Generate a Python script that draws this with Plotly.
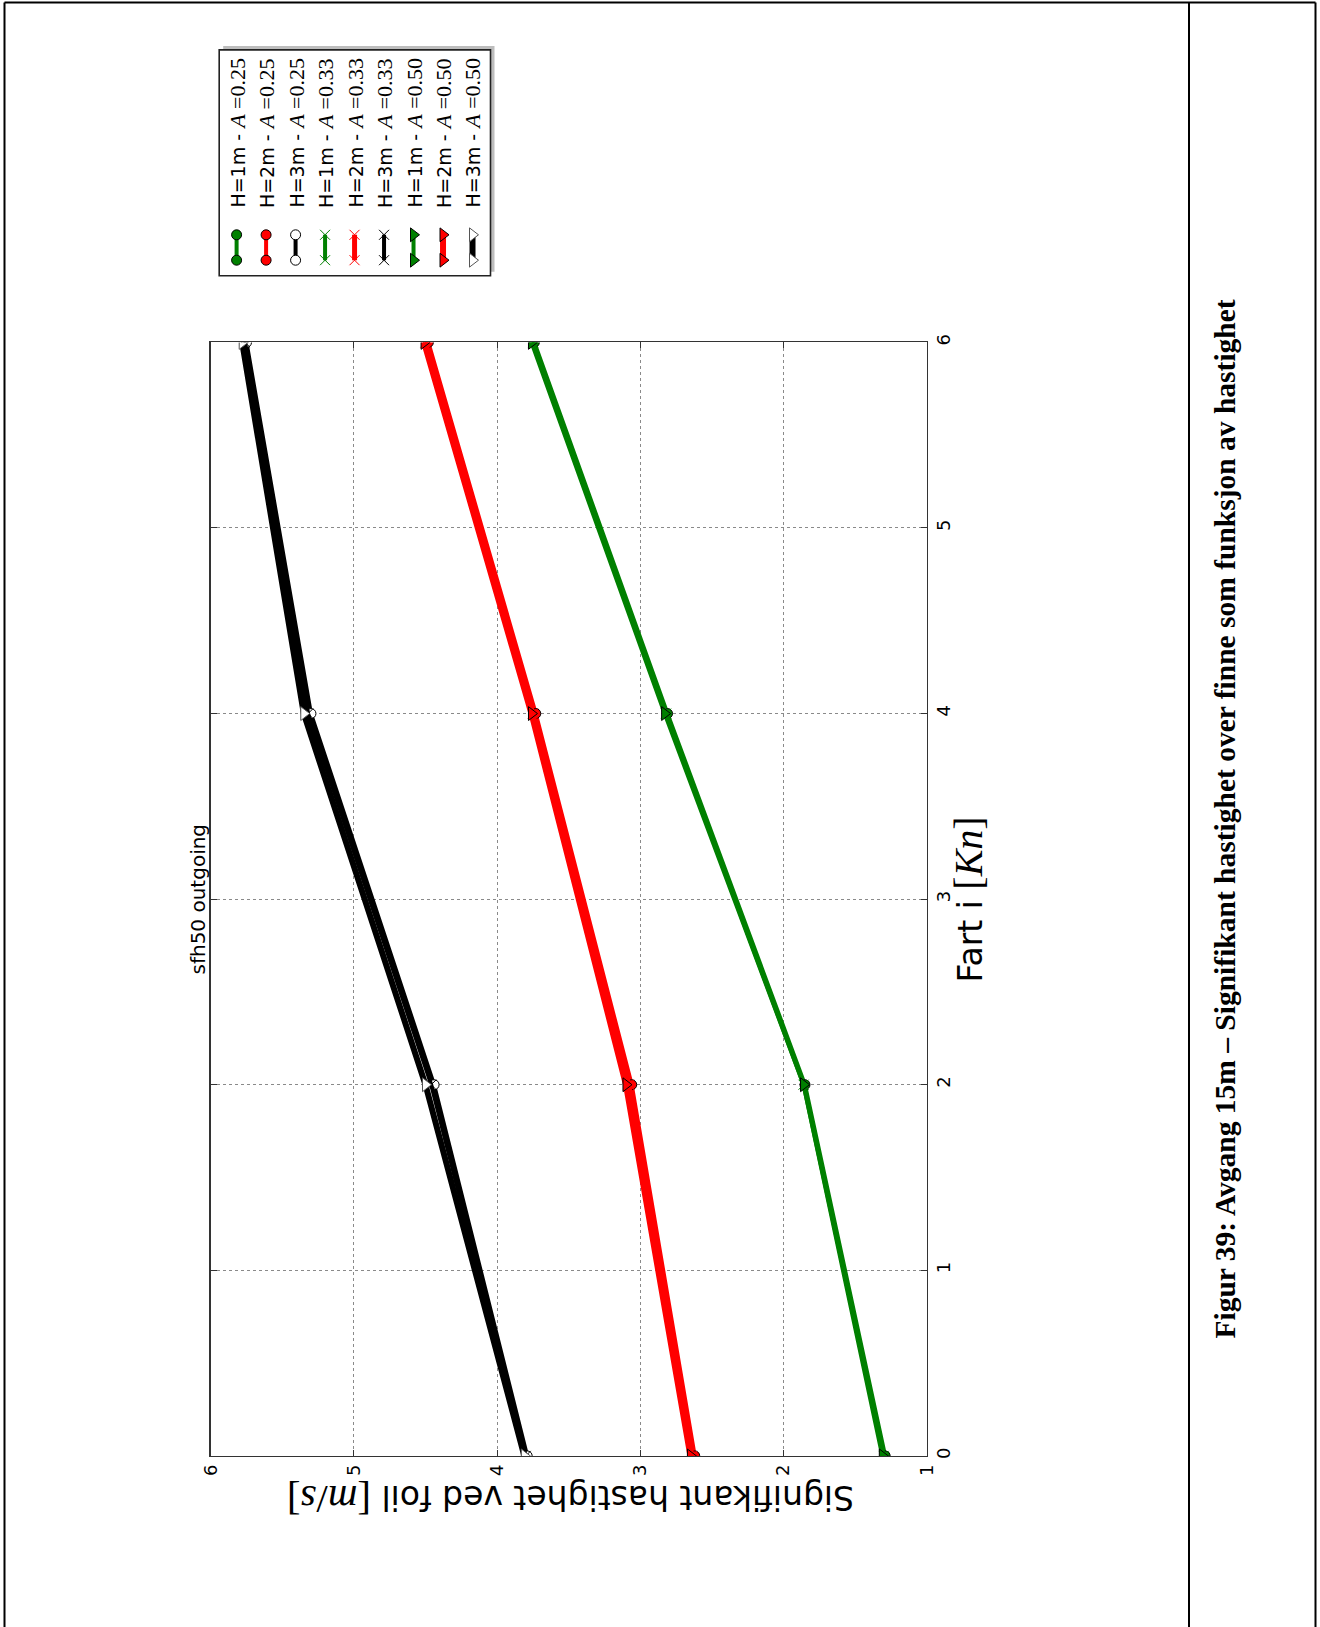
import plotly.graph_objects as go

W, H = 1320, 1627

# ---------------- data ----------------
speed = [0, 2, 4, 6]                      # Fart i [Kn]
heights = ["1m", "2m", "3m"]
amplitudes = ["0.25", "0.33", "0.50"]

v_h1_a25 = [1.29, 1.85, 2.81, 3.74]
v_h2_a25 = [2.62, 3.06, 3.73, 4.48]
v_h3_a25 = [3.79, 4.44, 5.30, 5.75]
v_h1_a33 = [1.30, 1.86, 2.82, 3.75]
v_h2_a33 = [2.64, 3.08, 3.75, 4.50]
v_h3_a33 = [3.80, 4.46, 5.32, 5.76]
v_h1_a50 = [1.31, 1.86, 2.83, 3.76]
v_h2_a50 = [2.65, 3.10, 3.76, 4.51]
v_h3_a50 = [3.81, 4.50, 5.35, 5.78]

vel_ticks = [1, 2, 3, 4, 5, 6]
speed_ticks = [0, 1, 2, 3, 4, 5, 6]

title_text = "sfh50 outgoing"
caption_text = "Figur 39: Avgang 15m \u2013 Signifikant hastighet over finne som funksjon av hastighet"

# ---------------- styles ----------------
line_col = {"1m": "#008000", "2m": "#ff0000", "3m": "#000000"}
fill_col = {"1m": "#008000", "2m": "#ff0000", "3m": "#ffffff"}
symbols = {"0.25": "circle", "0.33": "x-thin", "0.50": "triangle-right"}
msize = {"0.25": 10, "0.33": 10, "0.50": 12}
widths = {("1m", "0.25"): 4, ("2m", "0.25"): 4, ("3m", "0.25"): 4,
          ("1m", "0.33"): 4, ("2m", "0.33"): 5, ("3m", "0.33"): 4,
          ("1m", "0.50"): 4, ("2m", "0.50"): 6, ("3m", "0.50"): 6}

series = [
    ("1m", "0.25", v_h1_a25), ("2m", "0.25", v_h2_a25), ("3m", "0.25", v_h3_a25),
    ("1m", "0.33", v_h1_a33), ("2m", "0.33", v_h2_a33), ("3m", "0.33", v_h3_a33),
    ("1m", "0.50", v_h1_a50), ("2m", "0.50", v_h2_a50), ("3m", "0.50", v_h3_a50),
]


def px(x):
    return x / W


def py(y):
    return 1 - y / H


def marker_for(h, a):
    if a == "0.33":
        return dict(symbol=symbols[a], size=msize[a], color=line_col[h],
                    line=dict(color=line_col[h], width=1))
    return dict(symbol=symbols[a], size=msize[a], color=fill_col[h],
                line=dict(color="#000000" if h != "3m" or a == "0.25" else "#555555", width=1))


fig = go.Figure()

# main plot: x = velocity (horizontal, reversed), y = speed (vertical)
for h, a, vals in series:
    fig.add_trace(go.Scatter(
        x=vals, y=speed, mode="lines+markers",
        line=dict(color=line_col[h], width=widths[(h, a)]),
        marker=marker_for(h, a), showlegend=False, hoverinfo="skip",
        xaxis="x", yaxis="y"))

# legend samples (rotated legend drawn on its own axes)
leg_x_min, leg_x_max = 0.41, 9.61
leg_y_min, leg_y_max = -0.614, 8.28
for i, (h, a, vals) in enumerate(series, start=1):
    fig.add_trace(go.Scatter(
        x=[i, i], y=[0, 1], mode="lines+markers",
        line=dict(color=line_col[h], width=widths[(h, a)]),
        marker=marker_for(h, a), showlegend=False, hoverinfo="skip",
        xaxis="x2", yaxis="y2", cliponaxis=False))

annotations = []
math_font = "Liberation Serif"
for i, (h, a, vals) in enumerate(series, start=1):
    annotations.append(dict(
        xref="x2", yref="y2", x=i, y=1.976, xanchor="center", yanchor="bottom",
        textangle=-90, showarrow=False,
        text=(f"H={h[0]}m - <span style='font-family:{math_font};font-size:22px'>"
              f"<i>A</i> =0{a[1:]}</span>"),
        font=dict(family="DejaVu Sans", size=19, color="#000")))

annotations += [
    dict(xref="paper", yref="paper", x=px(197.5), y=py(899), textangle=-90,
         showarrow=False, xanchor="center", yanchor="middle", text=title_text,
         font=dict(family="DejaVu Sans", size=20, color="#000")),
    dict(xref="paper", yref="paper", x=px(968), y=py(899.5), textangle=-90,
         showarrow=False, xanchor="center", yanchor="middle",
         text=(f"Fart i <span style='font-family:{math_font};font-size:40px'>"
               f"[<i>Kn</i>]</span>"),
         font=dict(family="DejaVu Sans", size=33, color="#000")),
    dict(xref="paper", yref="paper", x=px(571), y=py(1500), textangle=180,
         showarrow=False, xanchor="center", yanchor="middle",
         text=(f"Signifikant hastighet ved foil <span style='font-family:{math_font};font-size:41px'>"
               f"[<i>m</i>/<i>s</i>]</span>"),
         font=dict(family="DejaVu Sans", size=33, color="#000")),
    dict(xref="paper", yref="paper", x=px(1224.5), y=py(819), textangle=-90,
         showarrow=False, xanchor="center", yanchor="middle",
         text=f"<b>{caption_text}</b>",
         font=dict(family="Liberation Serif", size=29.5, color="#000")),
]

shapes = [
    # legend shadow and frame
    dict(type="rect", xref="paper", yref="paper", layer="below",
         x0=px(223.2), x1=px(494.5), y0=py(271.8), y1=py(45.9),
         fillcolor="#bdbdbd", line=dict(width=0)),
    dict(type="rect", xref="paper", yref="paper", layer="below",
         x0=px(219.2), x1=px(490.5), y0=py(275.8), y1=py(49.9),
         fillcolor="#ffffff", line=dict(color="#222", width=1.6)),
    # page frame
    dict(type="line", xref="paper", yref="paper", x0=px(4.5), x1=px(4.5), y0=py(2.5), y1=py(1627),
         line=dict(color="#000", width=2)),
    dict(type="line", xref="paper", yref="paper", x0=px(4.5), x1=px(1315.5), y0=py(2.5), y1=py(2.5),
         line=dict(color="#000", width=2)),
    dict(type="line", xref="paper", yref="paper", x0=px(1189), x1=px(1189), y0=py(2.5), y1=py(1627),
         line=dict(color="#000", width=2)),
    dict(type="line", xref="paper", yref="paper", x0=px(1315.5), x1=px(1315.5), y0=py(2.5), y1=py(1627),
         line=dict(color="#000", width=2)),
]

axis_common = dict(
    showline=True, linecolor="#333", linewidth=1.5, mirror="ticks",
    ticks="inside", ticklen=6, tickwidth=1, tickcolor="#333",
    showgrid=True, gridcolor="#8a8a8a", griddash="dot", gridwidth=1,
    zeroline=False, tickangle=-90, automargin=False,
    tickfont=dict(family="DejaVu Sans", size=18, color="#000"),
)

fig.update_layout(
    width=W, height=H, autosize=False,
    margin=dict(l=0, r=0, t=0, b=0, pad=0, autoexpand=False),
    paper_bgcolor="#ffffff", plot_bgcolor="#ffffff",
    showlegend=False, hovermode=False,
    xaxis=dict(domain=[px(210.7), px(926.7)], range=[6, 1], tickvals=vel_ticks,
               side="bottom", anchor="y", **axis_common),
    yaxis=dict(domain=[py(1455.9), py(342.4)], range=[0, 6], tickvals=speed_ticks,
               side="right", anchor="x", **axis_common),
    xaxis2=dict(domain=[px(219.2), px(490.5)], range=[leg_x_min, leg_x_max],
                visible=False, anchor="y2", fixedrange=True, automargin=False),
    yaxis2=dict(domain=[py(275.8), py(49.9)], range=[leg_y_min, leg_y_max],
                visible=False, anchor="x2", fixedrange=True, automargin=False),
    annotations=annotations,
    shapes=shapes,
)

fig.write_html(
    "out.html",
    config={"responsive": False, "displayModeBar": False, "staticPlot": True},
    post_script="document.body.style.margin='0px';document.body.style.overflow='hidden';",
)
